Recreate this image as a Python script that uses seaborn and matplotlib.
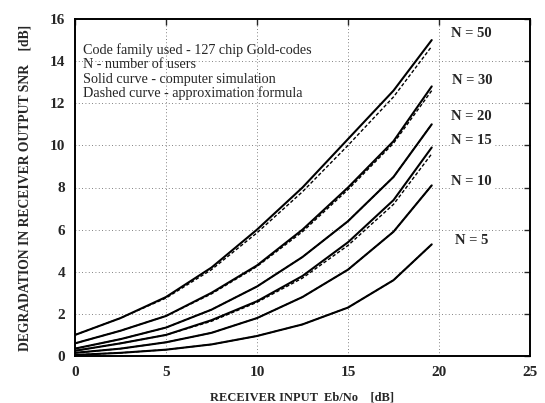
import numpy as np
import pandas as pd
import matplotlib
matplotlib.use("Agg")
import matplotlib.pyplot as plt
import seaborn as sns

# Data
ebno = [0, 2.5, 5, 7.5, 10, 12.5, 15, 17.5, 19.6]
users = [50, 30, 20, 15, 10, 5]
sim = {
    50: [1.0, 1.8, 2.8, 4.2, 6.0, 8.0, 10.3, 12.6, 15.0],
    30: [0.6, 1.2, 1.9, 3.0, 4.3, 6.0, 8.0, 10.2, 12.8],
    20: [0.35, 0.8, 1.35, 2.2, 3.3, 4.7, 6.4, 8.5, 11.0],
    15: [0.25, 0.6, 1.0, 1.7, 2.6, 3.8, 5.4, 7.4, 9.9],
    10: [0.15, 0.35, 0.65, 1.1, 1.8, 2.8, 4.1, 5.9, 8.1],
    5: [0.05, 0.15, 0.3, 0.55, 0.95, 1.5, 2.3, 3.6, 5.3],
}
approx = {
    50: [1.0, 1.8, 2.75, 4.1, 5.85, 7.8, 10.0, 12.3, 14.7],
    30: [0.6, 1.2, 1.9, 2.95, 4.25, 5.9, 7.9, 10.1, 12.6],
    20: [0.35, 0.8, 1.35, 2.2, 3.3, 4.7, 6.4, 8.5, 11.0],
    15: [0.25, 0.6, 1.0, 1.65, 2.55, 3.7, 5.25, 7.2, 9.6],
    10: [0.15, 0.35, 0.65, 1.1, 1.8, 2.8, 4.1, 5.9, 8.1],
    5: [0.05, 0.15, 0.3, 0.55, 0.95, 1.5, 2.3, 3.6, 5.3],
}
label_pos_y = {50: 15.3, 30: 13.1, 20: 11.35, 15: 10.25, 10: 8.3, 5: 5.5}
info_lines = [
    "Code family used - 127 chip Gold-codes",
    "N - number of users",
    "Solid curve - computer simulation",
    "Dashed curve - approximation formula",
]
xticks = [0, 5, 10, 15, 20, 25]
yticks = [0, 2, 4, 6, 8, 10, 12, 14, 16]

rows = []
for n in users:
    for x, s, a in zip(ebno, sim[n], approx[n]):
        rows.append({"x": x, "y": s, "N": n, "kind": "sim"})
        rows.append({"x": x, "y": a, "N": n, "kind": "approx"})
df = pd.DataFrame(rows)

sns.set_style("white")
plt.rcParams['font.family'] = ['Liberation Serif', 'DejaVu Serif']
plt.rcParams['font.weight'] = 'bold'

fig = plt.figure(figsize=(5.45, 4.03), dpi=100)
ax = fig.add_axes([75/545, 1-356/403, (530-75)/545, (356-19)/403])

sns.lineplot(data=df[df.kind == "sim"], x="x", y="y", units="N", estimator=None,
             color="black", lw=1.5, ax=ax, legend=False)
sns.lineplot(data=df[df.kind == "approx"], x="x", y="y", units="N", estimator=None,
             color="black", lw=1.0, ax=ax, legend=False, dashes=False)
for line in ax.lines[len(users):]:
    line.set_linestyle((0, (2.5, 1.5)))

ax.set_xlim(0, 25)
ax.set_ylim(0, 16)
ax.set_xticks(xticks)
ax.set_yticks(yticks)
ax.set_xticklabels([str(t) for t in xticks], fontsize=11, fontweight='bold')
ax.set_yticklabels([str(t) for t in yticks], fontsize=11, fontweight='bold')
ax.tick_params(direction='in', length=4, width=1, top=True, right=True, pad=7)
ax.grid(True, linestyle=(0, (1, 3)), color='0.35', lw=0.6)
for sp in ax.spines.values():
    sp.set_visible(True)
    sp.set_color('black')
    sp.set_linewidth(1.4)

ax.set_xlabel("RECEIVER INPUT  Eb/No    [dB]", fontsize=9, fontweight='bold', labelpad=9)
ax.set_ylabel("DEGRADATION IN RECEIVER OUTPUT SNR    [dB]", fontsize=9.8, fontweight='bold', labelpad=13)

for n in users:
    ax.text(21.8, label_pos_y[n], f"N = {n}", fontsize=10.5, fontweight='bold',
            ha='center', va='center',
            bbox=dict(facecolor='white', edgecolor='none', pad=1))

for i, t in enumerate(info_lines):
    ax.text(0.45, 14.5 - i * 0.68, t, fontsize=10.2, fontweight='normal', ha='left', va='center')

fig.savefig("out.png", dpi=100)
